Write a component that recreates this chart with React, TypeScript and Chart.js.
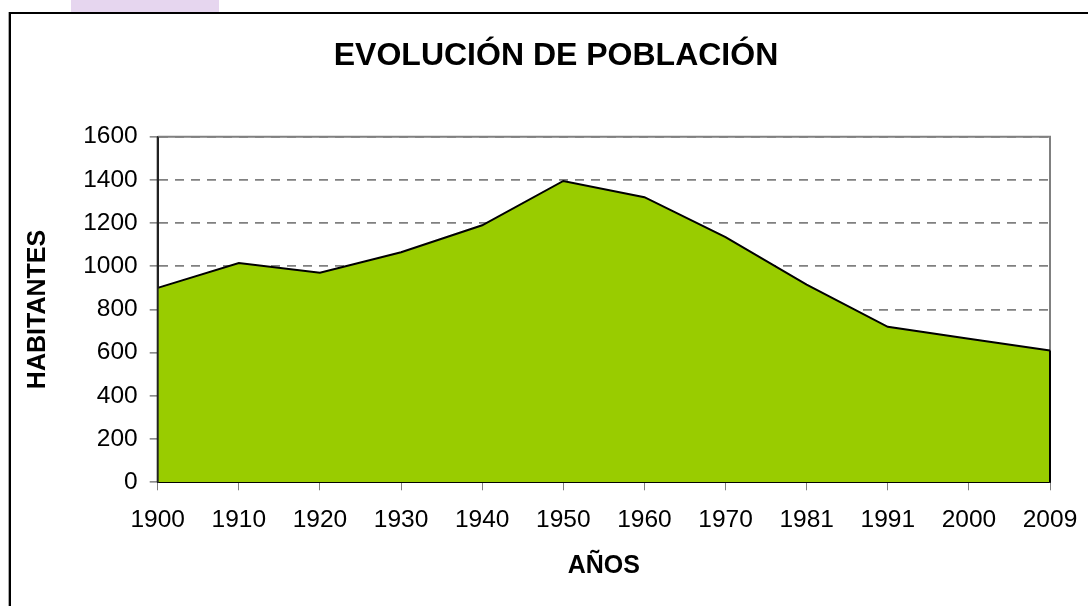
import React, { useEffect, useRef } from "react";
import { Chart, registerables } from "chart.js";

Chart.register(...registerables);

const years: string[] = ["1900", "1910", "1920", "1930", "1940", "1950", "1960", "1970", "1981", "1991", "2000", "2009"];
const population: number[] = [900, 1015, 970, 1065, 1190, 1395, 1320, 1135, 915, 720, 665, 610];
const yTickValues: number[] = [0, 200, 400, 600, 800, 1000, 1200, 1400, 1600];
const chartTitle = "EVOLUCIÓN DE POBLACIÓN";
const xTitle = "AÑOS";
const yTitle = "HABITANTES";

const FONT = "'Liberation Sans', Arial, Helvetica, sans-serif";
const PAD_LEFT = 62;

const edgePlugin = {
  id: "areaEdges",
  beforeDatasetsDraw(chart: any) {
    const { ctx, chartArea } = chart;
    ctx.save();
    ctx.strokeStyle = "#808080";
    ctx.lineWidth = 2;
    ctx.setLineDash([]);
    ctx.beginPath();
    ctx.moveTo(chartArea.left, chartArea.top);
    ctx.lineTo(chartArea.right, chartArea.top);
    ctx.lineTo(chartArea.right, chartArea.bottom);
    ctx.stroke();
    ctx.restore();
  },
  afterDatasetsDraw(chart: any) {
    const { ctx } = chart;
    const xs = chart.scales.x;
    const ys = chart.scales.y;
    const last = population.length - 1;
    const x0 = xs.getPixelForValue(0);
    const x1 = xs.getPixelForValue(last);
    const yBase = ys.getPixelForValue(0);
    ctx.save();
    ctx.setLineDash([]);
    ctx.lineWidth = 2;
    ctx.strokeStyle = "#000";
    ctx.beginPath();
    ctx.moveTo(x1, ys.getPixelForValue(population[last]));
    ctx.lineTo(x1, yBase);
    ctx.stroke();
    ctx.strokeStyle = "#222";
    ctx.beginPath();
    ctx.moveTo(x0, ys.getPixelForValue(yTickValues[yTickValues.length - 1]));
    ctx.lineTo(x0, yBase);
    ctx.stroke();
    ctx.restore();
  },
};

export default function App() {
  const ref = useRef<HTMLCanvasElement>(null);

  useEffect(() => {
    if (!ref.current) return;
    const chart = new Chart(ref.current, {
      type: "line",
      data: {
        labels: years,
        datasets: [
          {
            data: population,
            fill: "origin",
            backgroundColor: "#99CC00",
            borderColor: "#000000",
            borderWidth: 2,
            pointRadius: 0,
            tension: 0,
          },
        ],
      },
      plugins: [edgePlugin],
      options: {
        responsive: false,
        animation: false,
        layout: { padding: { top: 0, left: PAD_LEFT, right: 38, bottom: 0 } },
        plugins: {
          legend: { display: false },
          tooltip: { enabled: false },
          title: {
            display: true,
            text: chartTitle,
            color: "#000",
            font: { family: FONT, size: 32, weight: "bold", lineHeight: 1.2 },
            padding: { top: 36.5, bottom: 61.8 },
          },
        },
        scales: {
          x: {
            type: "category",
            offset: false,
            z: 1,
            afterFit(scale: any) {
              scale.height = 123.7;
              scale.paddingLeft = 0;
              scale.paddingRight = 0;
            },
            grid: {
              display: true,
              drawOnChartArea: false,
              drawTicks: true,
              tickLength: 8,
              tickColor: "#808080",
              color: "#808080",
            },
            border: { display: true, color: "#000", width: 2 },
            ticks: {
              color: "#000",
              font: { family: FONT, size: 24.5 },
              padding: 15,
              autoSkip: false,
              maxRotation: 0,
              minRotation: 0,
            },
            title: {
              display: true,
              text: xTitle,
              color: "#000",
              font: { family: FONT, size: 25, weight: "bold", lineHeight: 1.2 },
              padding: { top: 0, bottom: 25 },
            },
          },
          y: {
            min: yTickValues[0],
            max: yTickValues[yTickValues.length - 1],
            afterFit(scale: any) {
              scale.width = 157.7 - PAD_LEFT;
            },
            grid: {
              color: "#808080",
              lineWidth: 1.7,
              drawTicks: true,
              tickLength: 8,
              tickColor: "#808080",
              tickWidth: 1.5,
              tickBorderDash: [],
            },
            border: { display: true, color: "#222", width: 2, dash: [9, 7] },
            ticks: {
              stepSize: 200,
              color: "#000",
              font: { family: FONT, size: 24.5 },
              padding: 12,
              callback: (v: any) => String(v),
            },
            title: {
              display: true,
              text: yTitle,
              color: "#000",
              font: { family: FONT, size: 25, weight: "bold", lineHeight: 1.2 },
              padding: { top: 38 - PAD_LEFT - 15, bottom: 0 },
            },
          },
        },
      },
    });
    return () => chart.destroy();
  }, []);

  return (
    <div
      style={{
        position: "absolute",
        left: 0,
        top: 0,
        width: 1088,
        height: 606,
        overflow: "hidden",
        background: "#fff",
      }}
    >
      <div
        style={{
          position: "absolute",
          left: 71,
          top: 0,
          width: 148,
          height: 12,
          background: "#E6D6EF",
        }}
      />
      <canvas ref={ref} width={1088} height={606} style={{ position: "absolute", left: 0, top: 0, display: "block" }} />
      <div
        style={{
          position: "absolute",
          left: 9,
          top: 12,
          width: 1200,
          height: 700,
          border: "2px solid #000",
          boxShadow: "-1px 0 0 #aaa",
          pointerEvents: "none",
        }}
      />
    </div>
  );
}
